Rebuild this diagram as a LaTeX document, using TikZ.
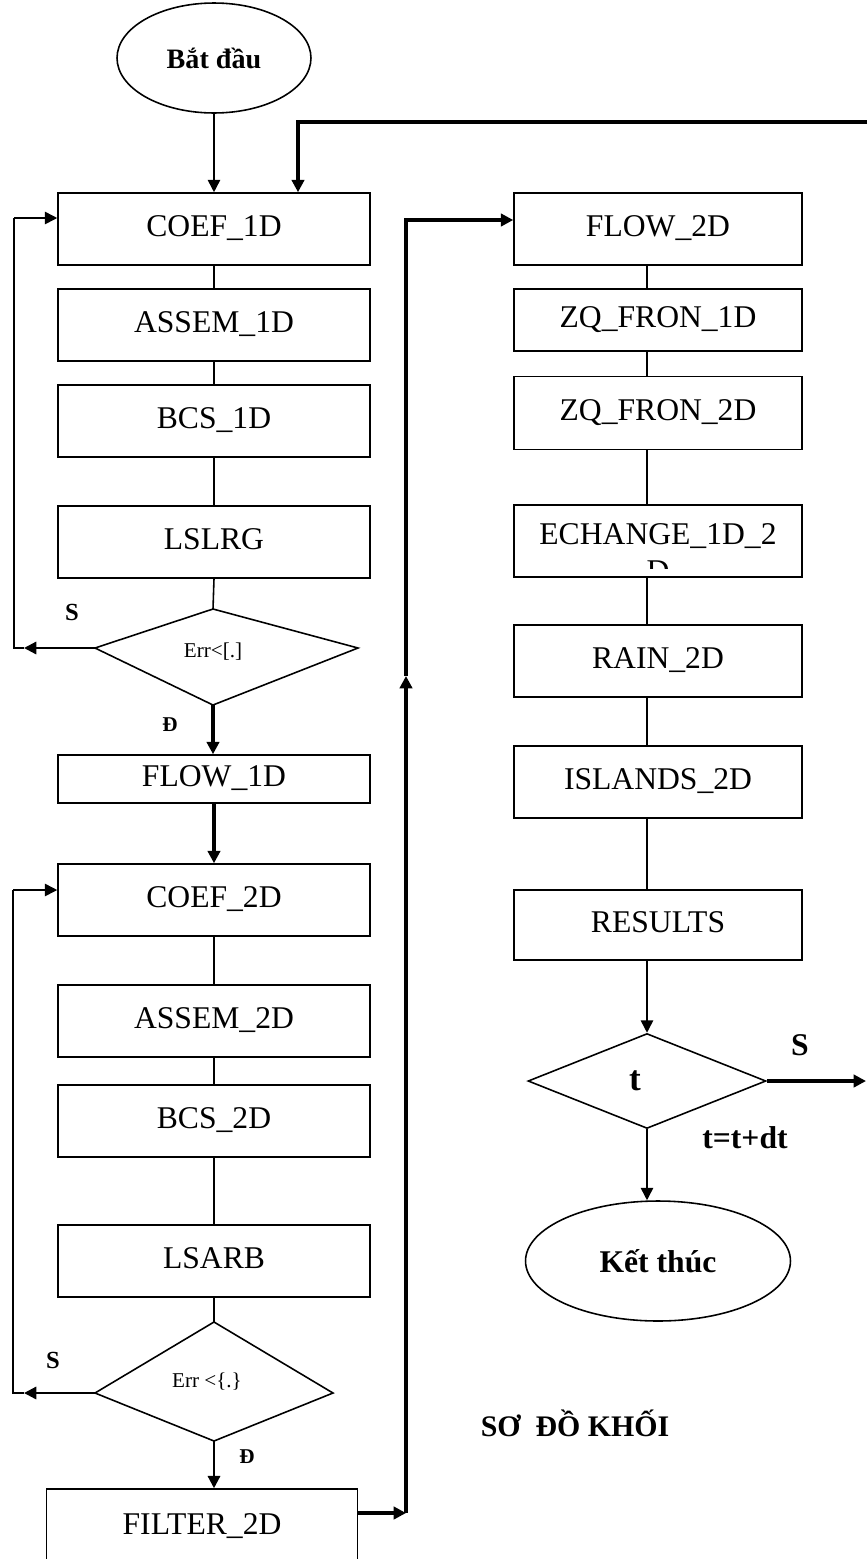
\documentclass[tikz,border=0pt]{standalone}
\usepackage{fontspec}
\setmainfont{Liberation Serif}
\usetikzlibrary{shapes.geometric,arrows.meta}
\tikzset{
  blk/.style={draw, line width=0.9pt, minimum height=1.44cm, inner sep=0pt, text height=12pt, text depth=3pt, font=\fontsize{18}{21}\selectfont},
  lblk/.style={blk, minimum width=6.24cm},
  rblk/.style={blk, minimum width=5.76cm},
  term/.style={draw, ellipse, line width=0.9pt, inner sep=0pt, font=\bfseries\fontsize{18}{21}\selectfont},
  ln/.style={line width=0.9pt},
  mln/.style={line width=1.3pt},
  arr/.style={line width=0.9pt, -{Triangle[length=7pt,width=7pt]}},
  marr/.style={line width=1.3pt, -{Triangle[length=7pt,width=7pt]}},
  tarr/.style={line width=2pt, -{Triangle[length=7pt,width=7pt]}},
  yn/.style={font=\bfseries\fontsize{14}{16}\selectfont},
}
\begin{document}
\begin{tikzpicture}[x=0.02cm, y=-0.02cm]
	\useasboundingbox (0,0) rectangle (867,1559);
	\clip (0,0) rectangle (867,1559);
	%start
	\node[term, minimum width=3.88cm, minimum height=2.2cm, font=\bfseries\fontsize{16}{18}\selectfont] (start) at (214,58) {Bắt đầu};
	%1D block
		\node[lblk] (coef1) at (214,229) {COEF\_1D};
		\node[lblk] (assem1) at (214,325) {ASSEM\_1D};
		\node[lblk] (bcs1) at (214,421) {BCS\_1D};
		\node[lblk] (lslrg) at (214,542) {LSLRG};
		% test 1
		\coordinate (e1t) at (213,609);
		\coordinate (e1r) at (358,648);
		\coordinate (e1b) at (213,705);
		\coordinate (e1l) at (95,648);
		\draw[ln] (e1t) -- (e1r) -- (e1b) -- (e1l) -- cycle;
		\node[font=\fontsize{12}{14}\selectfont] (err1) at (213,652) {Err<[.]};
		\node[lblk, minimum height=0.96cm] (flow1) at (214,779) {FLOW\_1D};
	%2D block
		\node[lblk] (coef2) at (214,900) {COEF\_2D};
		\node[lblk] (assem2) at (214,1021) {ASSEM\_2D};
		\node[lblk] (bcs2) at (214,1121) {BCS\_2D};
		\node[lblk] (lsarb) at (214,1261) {LSARB};
		% test 2
		\coordinate (e2t) at (214,1322);
		\coordinate (e2r) at (333,1393);
		\coordinate (e2b) at (214,1441);
		\coordinate (e2l) at (95,1393);
		\draw[ln] (e2t) -- (e2r) -- (e2b) -- (e2l) -- cycle;
		\node[font=\fontsize{12}{14}\selectfont] (err2) at (207,1382) {Err <\{.\}};
		\node[lblk, minimum width=6.22cm, minimum height=1.52cm] (filt) at (202,1527) {FILTER\_2D};
	%right column
		\node[rblk] (flow2) at (658,229) {FLOW\_2D};
		\node[rblk, minimum height=1.24cm] (zq1) at (658,320) {ZQ\_FRON\_1D};
		\node[rblk, minimum height=1.46cm] (zq2) at (658,413) {ZQ\_FRON\_2D};
		\node[rblk] (ech) at (658,541) {};
		\begin{scope}
			\clip (514,506) rectangle (802,568);
			\node[font=\fontsize{18}{21}\selectfont, align=center] (echtxt) at (658,553) {ECHANGE\_1D\_2\\D};
		\end{scope}
		\node[rblk] (rain) at (658,661) {RAIN\_2D};
		\node[rblk] (isl) at (658,782) {ISLANDS\_2D};
		\node[rblk, minimum height=1.4cm] (res) at (658,925) {RESULTS};
		% time test
		\node[draw, diamond, line width=0.9pt, inner sep=0pt, minimum width=4.76cm, minimum height=1.9cm] (tdec) at (647,1081) {};
		\node[font=\bfseries\fontsize{20}{22}\selectfont] (tlab) at (635,1081) {t};
		\node[term, minimum width=5.3cm, minimum height=2.4cm] (fin) at (658,1261) {Kết thúc};
	% connectors left
		\draw[arr] (start.south) -- (start.south |- coef1.north);
		\draw[ln] (coef1) -- (assem1);
		\draw[ln] (assem1) -- (bcs1);
		\draw[ln] (bcs1) -- (lslrg);
		\draw[ln] (lslrg.south) -- (e1t);
		\draw[tarr] (e1b) -- (e1b |- flow1.north);
		\draw[tarr] (flow1.south) -- (coef2.north);
		\draw[ln] (coef2) -- (assem2);
		\draw[ln] (assem2) -- (bcs2);
		\draw[ln] (bcs2) -- (lsarb);
		\draw[ln] (lsarb.south) -- (e2t);
		\draw[marr] (e2b) -- (e2b |- filt.north);
	% loops back
		\coordinate (lp1a) at (24,648);
		\coordinate (lp1b) at (14,648);
		\coordinate (lp1c) at (14,218);
		\draw[marr] (e1l) -- (lp1a);
		\draw[ln] (lp1a) -- (lp1b) -- (lp1c);
		\draw[arr] (lp1c) -- (lp1c -| coef1.west);
		\coordinate (lp2a) at (24,1393);
		\coordinate (lp2b) at (13,1393);
		\coordinate (lp2c) at (13,890);
		\draw[marr] (e2l) -- (lp2a);
		\draw[ln] (lp2a) -- (lp2b) -- (lp2c);
		\draw[arr] (lp2c) -- (lp2c -| coef2.west);
	% filter to flow_2d
		\coordinate (fj) at (406,1513);
		\coordinate (fu) at (406,676);
		\coordinate (ft) at (406,220);
		\draw[tarr] (filt.east |- fj) -- (fj);
		\draw[tarr] (fj) -- (fu);
		\draw[tarr] (fu) -- (ft) -- (ft -| flow2.west);
	% connectors right
		\draw[ln] (flow2.south -| tdec) -- (zq1.north -| tdec);
		\draw[ln] (zq1.south -| tdec) -- (zq2.north -| tdec);
		\draw[ln] (zq2.south -| tdec) -- (ech.north -| tdec);
		\draw[ln] (ech.south -| tdec) -- (rain.north -| tdec);
		\draw[ln] (rain.south -| tdec) -- (isl.north -| tdec);
		\draw[ln] (isl.south -| tdec) -- (res.north -| tdec);
		\draw[arr] (res.south -| tdec) -- (tdec.north);
		\draw[arr] (tdec.south) -- (tdec.south |- fin.north);
	% next time step
		\coordinate (ex) at (866,1081);
		\draw[tarr] (tdec.east) -- (ex);
		\coordinate (rt) at (867,122);
		\coordinate (tl) at (298,122);
		\draw[tarr] (rt) -- (tl) -- (tl |- coef1.north);
	% labels
		\node[yn] (s1) at (72,612) {S};
		\node[font=\bfseries\fontsize{12}{14}\selectfont] (d1) at (170,725) {Đ};
		\node[yn] (s2) at (53,1360) {S};
		\node[font=\bfseries\fontsize{12}{14}\selectfont] (d2) at (247,1457) {Đ};
		\node[font=\bfseries\fontsize{18}{21}\selectfont] (s3) at (800,1045) {S};
		\node[font=\bfseries\fontsize{18}{21}\selectfont] (dt) at (745,1138) {t=t+dt};
		\node[font=\bfseries\fontsize{17}{20}\selectfont] (title) at (575,1423) {SƠ~~ĐỒ KHỐI};
\end{tikzpicture}
\end{document}
